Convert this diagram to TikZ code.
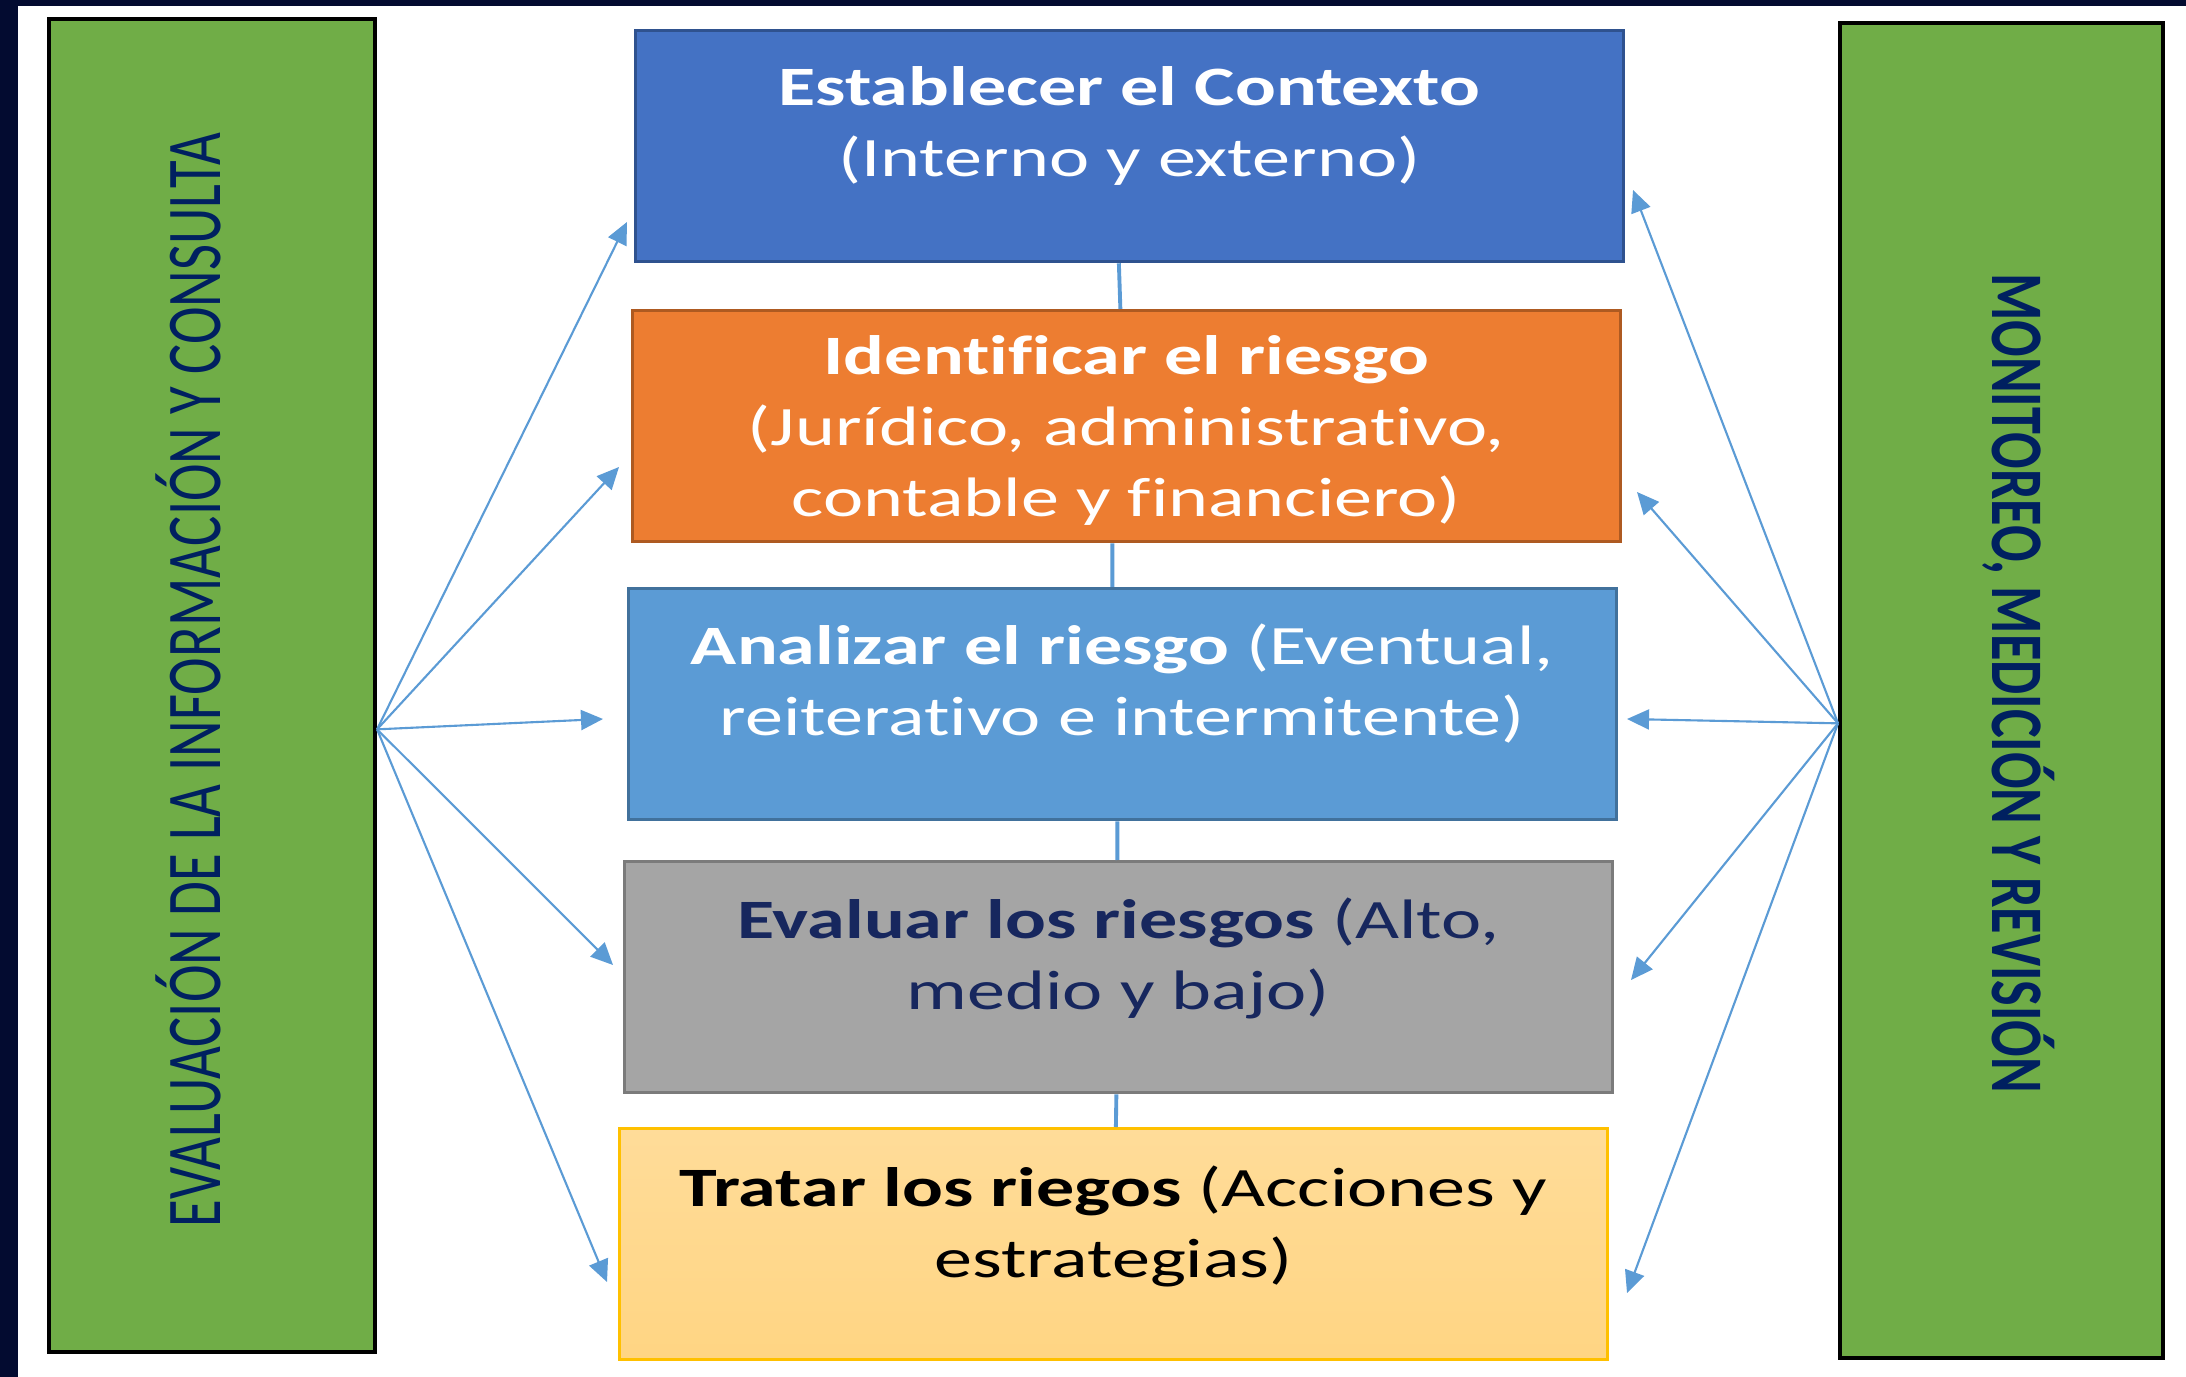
\documentclass[tikz,border=0pt]{standalone}
\usepackage{fontspec}
\usetikzlibrary{arrows.meta}
\newfontfamily\boxfont{Carlito}[FakeStretch=1.37,Ligatures=NoCommon]
\newfontfamily\barfont{Carlito}[Ligatures=NoCommon]

\definecolor{frameNavy}{HTML}{030B30}
\definecolor{barGreen}{HTML}{70AD47}
\definecolor{barText}{HTML}{002060}
\definecolor{ctxFill}{HTML}{4472C4}
\definecolor{ctxLine}{HTML}{2F528F}
\definecolor{idrFill}{HTML}{ED7D31}
\definecolor{idrLine}{HTML}{AE5A21}
\definecolor{anrFill}{HTML}{5B9BD5}
\definecolor{anrLine}{HTML}{41719C}
\definecolor{evrFill}{HTML}{A5A5A5}
\definecolor{evrLine}{HTML}{7B7B7B}
\definecolor{evrText}{HTML}{17275E}
\definecolor{trrTop}{HTML}{FFDC99}
\definecolor{trrBot}{HTML}{FFD583}
\definecolor{trrLine}{HTML}{FFC000}
\definecolor{linkBlue}{HTML}{5B9BD5}

\tikzset{
  bar/.style={draw=black, line width=1.1pt, fill=barGreen, inner sep=0pt, anchor=north west},
  bartxt/.style={inner sep=0pt, text=barText},
  box/.style={line width=0.9pt, minimum width=9.87cm, minimum height=2.31cm, inner sep=0pt, anchor=north west},
  txt/.style={align=center, inner sep=0pt, anchor=north, font=\boxfont\fontsize{15.8pt}{20.2pt}\selectfont},
  conn/.style={draw=linkBlue, line width=1.1pt},
  link/.style={draw=linkBlue, line width=0.6pt, -{Triangle[length=2.2mm,width=2mm]}},
}

\begin{document}
\begin{tikzpicture}[x=0.01cm,y=-0.01cm]
% canvas and dark frame
\useasboundingbox (0,0) rectangle (2186,1377);
\fill[white] (0,0) rectangle (2186,1377);
\fill[frameNavy] (0,0) rectangle (18,1377);
\fill[frameNavy] (0,0) rectangle (2186,6);

% side bars
\node[bar, minimum width=3.26cm, minimum height=13.32cm] (L) at (47,17) {};
\node[bar, minimum width=3.23cm, minimum height=13.34cm] (R) at (1838,21) {};
\node[bartxt, rotate=90, yscale=1.37, font=\barfont\fontsize{16.1pt}{19pt}\selectfont] (Ltxt) at (188,680) {EVALUACIÓN DE LA INFORMACIÓN Y CONSULTA};
\node[bartxt, rotate=-90, yscale=1.37, font=\barfont\bfseries\fontsize{15.4pt}{19pt}\selectfont] (Rtxt) at (2019,683) {MONITOREO, MEDICIÓN Y REVISIÓN};

% process boxes
\node[box, draw=ctxLine, fill=ctxFill] (b1) at (634,29) {};
\node[box, draw=idrLine, fill=idrFill] (b2) at (631,309) {};
\node[box, draw=anrLine, fill=anrFill] (b3) at (627,587) {};
\node[box, draw=evrLine, fill=evrFill] (b4) at (623,860) {};
\node[box, draw=trrLine, top color=trrTop, bottom color=trrBot] (b5) at (618,1127) {};

\node[txt, text=white] (t1) at ([yshift=-0.37cm]b1.north) {{\bfseries Establecer el Contexto}\\(Interno y externo)};
\node[txt, text=white] (t2) at ([yshift=-0.26cm]b2.north) {{\bfseries Identificar el riesgo}\\(Jurídico, administrativo,\\contable y financiero)};
\node[txt, text=white] (t3) at ([yshift=-0.36cm]b3.north) {{\bfseries Analizar el riesgo} (Eventual,\\reiterativo e intermitente)};
\node[txt, text=evrText] (t4) at ([yshift=-0.37cm]b4.north) {{\bfseries Evaluar los riesgos} (Alto,\\medio y bajo)};
\node[txt, text=black] (t5) at ([yshift=-0.38cm]b5.north) {{\bfseries Tratar los riegos} (Acciones y\\estrategias)};

% links between the boxes
\draw[conn] ([xshift=-0.105cm]b1.south) -- ([xshift=-0.06cm]b2.north);
\draw[conn] ([xshift=-0.14cm]b2.south) -- ([xshift=-0.10cm]b3.north);
\draw[conn] ([xshift=-0.05cm]b3.south) -- ([xshift=-0.01cm]b4.north);
\draw[conn] ([xshift=-0.02cm]b4.south) -- ([xshift=0.025cm]b5.north);

% arrows from the bars
\coordinate (lo) at ([yshift=-0.44cm]L.east);
\coordinate (l1) at (627,222);
\coordinate (l2) at (619,467);
\coordinate (l3) at (603,719);
\coordinate (l4) at (613,965);
\coordinate (l5) at (607,1282);
\coordinate (ro) at ([yshift=-0.33cm]R.west);
\coordinate (r1) at (1633,190);
\coordinate (r2) at (1637,492);
\coordinate (r3) at (1627,719);
\coordinate (r4) at (1631,980);
\coordinate (r5) at (1627,1293);
\draw[link] (lo) -- (l1);
\draw[link] (lo) -- (l2);
\draw[link] (lo) -- (l3);
\draw[link] (lo) -- (l4);
\draw[link] (lo) -- (l5);
\draw[link] (ro) -- (r1);
\draw[link] (ro) -- (r2);
\draw[link] (ro) -- (r3);
\draw[link] (ro) -- (r4);
\draw[link] (ro) -- (r5);
\end{tikzpicture}
\end{document}
